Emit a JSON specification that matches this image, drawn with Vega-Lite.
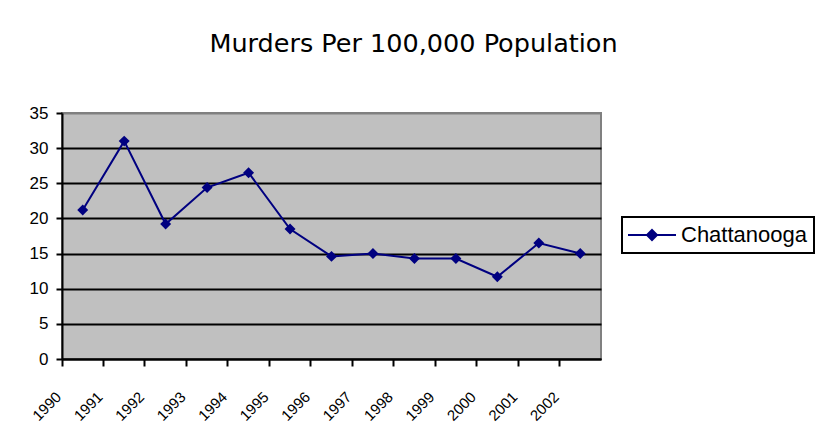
{
  "$schema": "https://vega.github.io/schema/vega-lite/v6.json",
  "autosize": "none",
  "width": 539,
  "height": 246,
  "padding": {"left": 62, "top": 113, "right": 218, "bottom": 83},
  "background": "white",
  "title": {
    "text": "Murders Per 100,000 Population",
    "font": "DejaVu Sans",
    "fontSize": 25.5,
    "fontWeight": "normal",
    "color": "black",
    "anchor": "middle",
    "baseline": "alphabetic",
    "offset": 27,
    "dx": 82
  },
  "data": {
    "values": [
      {"year": "1990", "rate": 21.2, "series": "Chattanooga"},
      {"year": "1991", "rate": 31.0, "series": "Chattanooga"},
      {"year": "1992", "rate": 19.2, "series": "Chattanooga"},
      {"year": "1993", "rate": 24.4, "series": "Chattanooga"},
      {"year": "1994", "rate": 26.5, "series": "Chattanooga"},
      {"year": "1995", "rate": 18.5, "series": "Chattanooga"},
      {"year": "1996", "rate": 14.6, "series": "Chattanooga"},
      {"year": "1997", "rate": 15.0, "series": "Chattanooga"},
      {"year": "1998", "rate": 14.3, "series": "Chattanooga"},
      {"year": "1999", "rate": 14.3, "series": "Chattanooga"},
      {"year": "2000", "rate": 11.7, "series": "Chattanooga"},
      {"year": "2001", "rate": 16.5, "series": "Chattanooga"},
      {"year": "2002", "rate": 15.0, "series": "Chattanooga"}
    ]
  },
  "mark": {
    "type": "line",
    "strokeWidth": 2,
    "point": {"shape": "diamond", "filled": true, "size": 120, "opacity": 1}
  },
  "encoding": {
    "x": {
      "field": "year",
      "type": "ordinal",
      "scale": {"type": "band", "paddingInner": 0, "paddingOuter": 0},
      "axis": {
        "title": null,
        "bandPosition": 0,
        "labelAngle": -45,
        "labelAlign": "right",
        "labelBaseline": "middle",
        "labelFont": "Liberation Sans",
        "labelFontSize": 15,
        "labelColor": "black",
        "labelPadding": 28,
        "labelOffset": -24,
        "tickColor": "black",
        "tickSize": 7,
        "tickWidth": 2,
        "domainColor": "black",
        "domainWidth": 2,
        "grid": false
      }
    },
    "y": {
      "field": "rate",
      "type": "quantitative",
      "scale": {"domain": [0, 35], "nice": false},
      "axis": {
        "title": null,
        "values": [0, 5, 10, 15, 20, 25, 30, 35],
        "labelFont": "Liberation Sans",
        "labelFontSize": 17,
        "labelColor": "black",
        "labelPadding": 8,
        "tickColor": "black",
        "tickSize": 6,
        "tickWidth": 2,
        "domainColor": "black",
        "domainWidth": 2,
        "grid": true,
        "gridColor": {"condition": {"test": "datum.value == 35", "value": "#808080"}, "value": "black"},
        "gridWidth": 2,
        "gridOpacity": 1
      }
    },
    "color": {
      "field": "series",
      "type": "nominal",
      "scale": {"range": ["#000080"]},
      "legend": {
        "title": null,
        "orient": "none",
        "legendX": 560,
        "legendY": 104,
        "strokeColor": "black",
        "padding": 7,
        "labelFont": "Liberation Sans",
        "labelFontSize": 22,
        "labelColor": "black",
        "labelOffset": 18,
        "symbolType": "M-4.8,0L4.8,0M0,-1L1,0L0,1L-1,0Z",
        "symbolSize": 100,
        "symbolOffset": 12,
        "symbolStrokeWidth": 2,
        "symbolFillColor": "#000080",
        "symbolStrokeColor": "#000080"
      }
    }
  },
  "config": {
    "view": {"fill": "#C0C0C0", "stroke": "#808080", "strokeWidth": 2},
    "legend": {"strokeWidth": 2}
  }
}
